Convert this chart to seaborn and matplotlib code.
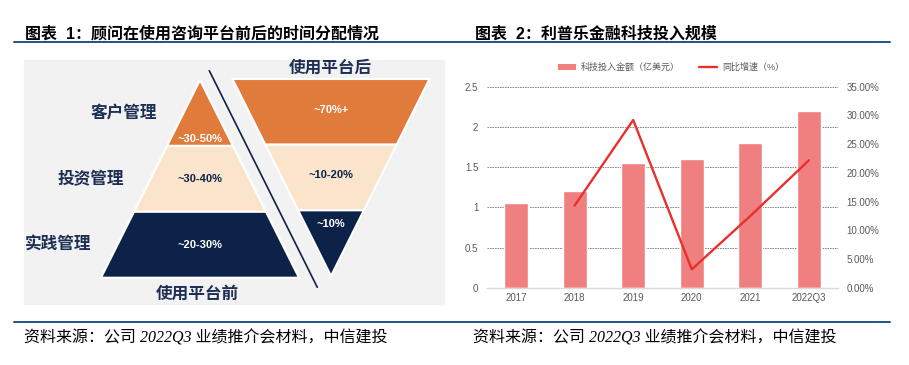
import numpy as np
import matplotlib
matplotlib.use("Agg")
import matplotlib.pyplot as plt
import seaborn as sns
from matplotlib.patches import Polygon, Rectangle, Patch
from matplotlib.lines import Line2D
from matplotlib.ticker import FuncFormatter, MultipleLocator


# figure 1 (diagram)
TITLE_1 = "图表  1：顾问在使用咨询平台前后的时间分配情况"
before_labels = ["客户管理", "投资管理", "实践管理"]
before_values = ["~30-50%", "~30-40%", "~20-30%"]
after_values = ["~70%+", "~10-20%", "~10%"]
before_title = "使用平台前"
after_title = "使用平台后"

# figure 2 (chart)
TITLE_2 = "图表  2：利普乐金融科技投入规模"
years = ["2017", "2018", "2019", "2020", "2021", "2022Q3"]
invest = [1.05, 1.2, 1.55, 1.6, 1.8, 2.2]
growth_years = ["2018", "2019", "2020", "2021", "2022Q3"]
growth = [0.143, 0.292, 0.032, 0.125, 0.222]
bar_label = "科技投入金额（亿美元）"
line_label = "同比增速（%）"

SOURCE = "资料来源：公司 2022Q3 业绩推介会材料，中信建投"

ORANGE = "#E07B3B"
PEACH = "#FBE4CC"
NAVY = "#0C2249"
TEXT_NAVY = "#1E2F55"
BAR_C = "#F08080"
LINE_C = "#E8302C"
RULE_C = "#23508A"
GREY_TXT = "#595959"

W, H = 909, 365


def fx(x):
	return x / W


def fy(y):
	return 1 - y / H


def draw_diagram(ax):
	ax.add_patch(Rectangle((24, 60), 420, 244, color="#F2F2F2", zorder=0))
	band_colors = [ORANGE, PEACH, NAVY]
	text_colors = ["white", NAVY, "white"]

	# pyramid (before)
	cx, y0, y1, hw = 200, 80, 277.7, 99
	cuts = np.linspace(y0, y1, 4)

	def half_up(y):
		return hw * (y - y0) / (y1 - y0)

	for i in range(3):
		ya, yb = cuts[i], cuts[i + 1]
		pts = [(cx - half_up(ya), ya), (cx + half_up(ya), ya),
			(cx + half_up(yb), yb), (cx - half_up(yb), yb)]
		ax.add_patch(Polygon(pts, closed=True, facecolor=band_colors[i],
			edgecolor="white", linewidth=1.5, zorder=2))
		ty = yb - 7 if i == 0 else (ya + yb) / 2
		ax.text(cx, ty, before_values[i], ha="center", va="center",
			fontsize=8, fontweight="bold", color=text_colors[i], zorder=3)
		ly = (ya + yb) / 2
		ax.text(cx - half_up(ly) - 26, ly, before_labels[i], ha="right",
			va="center", fontsize=12, fontweight="bold", color=TEXT_NAVY)
	ax.text(cx - 3, 294, before_title, ha="center", va="center",
		fontsize=12, fontweight="bold", color=TEXT_NAVY)

	# inverted pyramid (after)
	cx, y0, y1, hw = 331, 79, 276, 98.5
	cuts = np.linspace(y0, y1, 4)

	def half_down(y):
		return hw * (y1 - y) / (y1 - y0)

	for i in range(3):
		ya, yb = cuts[i], cuts[i + 1]
		pts = [(cx - half_down(ya), ya), (cx + half_down(ya), ya),
			(cx + half_down(yb), yb), (cx - half_down(yb), yb)]
		ax.add_patch(Polygon(pts, closed=True, facecolor=band_colors[i],
			edgecolor="white", linewidth=1.5, zorder=2))
		ty = ya + 14 if i == 2 else (ya + yb) / 2 - 2
		ax.text(cx, ty, after_values[i], ha="center", va="center",
			fontsize=8, fontweight="bold", color=text_colors[i], zorder=3)
	ax.text(cx - 1, 68, after_title, ha="center", va="center",
		fontsize=12, fontweight="bold", color=TEXT_NAVY)

	ax.plot([209.3, 317.3], [70.7, 287.3], color=NAVY, linewidth=1.2, zorder=4)


def draw_chart(fig):
	ax = fig.add_axes([fx(486.7), fy(287.7), fx(351.6), (287.7 - 86.7) / H])
	sns.barplot(x=years, y=invest, color=BAR_C, width=0.41, saturation=1,
		ax=ax, zorder=2)
	ax.set_xlim(-0.5, 5.5)
	ax.set_ylim(0, 2.5)
	ax.yaxis.set_major_locator(MultipleLocator(0.5))
	ax.yaxis.set_major_formatter(FuncFormatter(lambda v, p: f"{v:g}"))
	ax.set_axisbelow(True)
	ax.grid(axis="y", color="#7A7A7A", linestyle=(0, (2, 1)), linewidth=0.6)
	ax.grid(axis="x", visible=False)
	for s in ["top", "left", "right"]:
		ax.spines[s].set_visible(False)
	ax.spines["bottom"].set_color("#D9D9D9")
	ax.spines["bottom"].set_linewidth(1.0)
	ax.tick_params(axis="both", length=0, labelsize=7, colors=GREY_TXT)
	ax.tick_params(axis="y", pad=6)
	ax.tick_params(axis="x", pad=4)
	ax.set_facecolor("none")

	ax2 = ax.twinx()
	xpos = [years.index(y) for y in growth_years]
	sns.lineplot(x=xpos, y=growth, ax=ax2, color=LINE_C, linewidth=1.7)
	ax2.set_ylim(0, 0.35)
	ax2.yaxis.set_major_locator(MultipleLocator(0.05))
	ax2.yaxis.set_major_formatter(FuncFormatter(lambda v, p: f"{v * 100:.2f}%"))
	for s in ["top", "left", "right", "bottom"]:
		ax2.spines[s].set_visible(False)
	ax2.tick_params(axis="y", length=0, labelsize=7, colors=GREY_TXT, pad=6)
	ax2.set_ylabel("")
	ax.set_ylabel("")

	handles = [Patch(facecolor=BAR_C, edgecolor="none"),
		Line2D([0], [0], color=LINE_C, linewidth=1.7)]
	fig.legend(handles, [bar_label, line_label], loc="center",
		bbox_to_anchor=(fx(671), fy(67.5)), ncol=2, frameon=False,
		fontsize=6.5, labelcolor=GREY_TXT, handlelength=2.0,
		handleheight=0.8, handletextpad=0.5, columnspacing=2.2)


def main():
	sns.set_theme(style="white")
	plt.rcParams["font.family"] = ["Liberation Sans", "Noto Sans CJK SC", "DejaVu Sans"]
	fig = plt.figure(figsize=(W / 100, H / 100), dpi=100)
	bg = fig.add_axes([0, 0, 1, 1])
	bg.set_xlim(0, W)
	bg.set_ylim(H, 0)
	bg.axis("off")

	draw_diagram(bg)

	# titles and rules
	for x, t in [(25, TITLE_1), (475, TITLE_2)]:
		bg.text(x, 34, t, ha="left", va="center", fontsize=11.5,
			fontweight="bold", color="black")
	bg.plot([14, 890], [42, 42], color=RULE_C, linewidth=1.4)
	bg.plot([14, 890], [322, 322], color=RULE_C, linewidth=1.4)
	for x in [24, 473]:
		bg.text(x, 338, SOURCE, ha="left", va="center", fontsize=11.5,
			style="italic", color="black",
			family=["Liberation Serif", "Noto Sans CJK SC"])

	draw_chart(fig)
	fig.savefig("out.png", dpi=100)


if __name__ == "__main__":
	main()
